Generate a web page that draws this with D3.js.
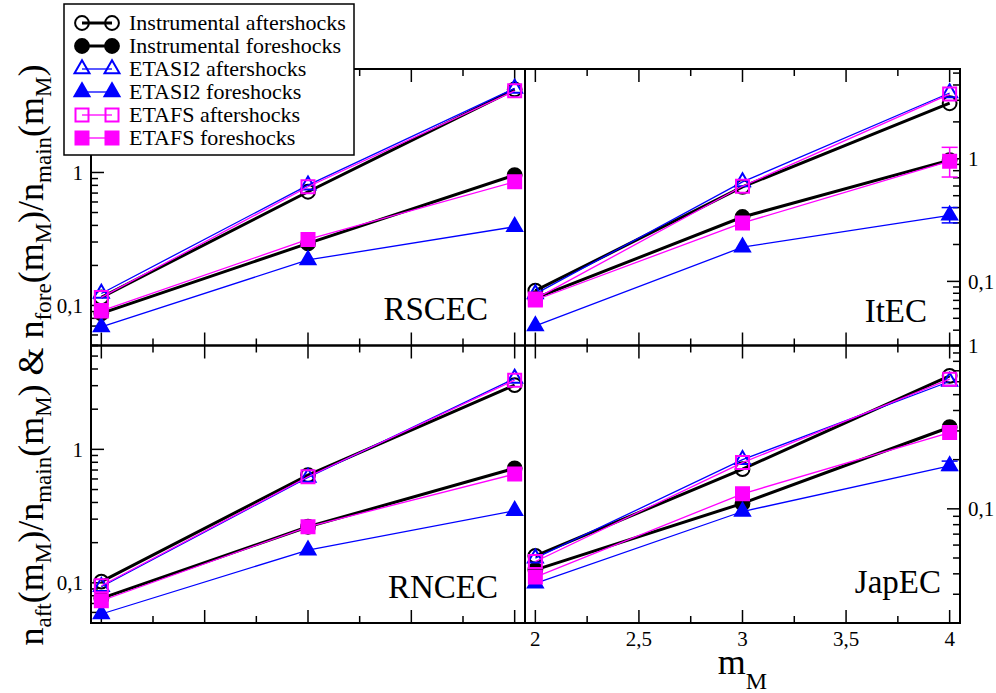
<!DOCTYPE html>
<html><head><meta charset="utf-8">
<script src="https://cdn.jsdelivr.net/npm/d3@7"></script>
<style>
body{margin:0;background:#fff}
svg{display:block}
</style>
</head><body>
<svg id="chart" width="996" height="693" font-family="'Liberation Serif', 'Times New Roman', Tinos, 'DejaVu Serif', serif"></svg>
<script>
// ---------------- DATA ----------------
const magnitudes = [2, 3, 4];
const seriesNames = [
  "Instrumental aftershocks",
  "Instrumental foreshocks",
  "ETASI2 aftershocks",
  "ETASI2 foreshocks",
  "ETAFS aftershocks",
  "ETAFS foreshocks"
];
const panelNames = ["RSCEC", "ItEC", "RNCEC", "JapEC"];
// values per series (legend order) at m_M = 2, 3, 4
const RSCEC = [
  [0.115, 0.716, 4.21],
  [0.0872, 0.293, 0.956],
  [0.123, 0.804, 4.29],
  [0.069, 0.22, 0.391],
  [0.115, 0.781, 4.11],
  [0.091, 0.314, 0.851]
];
const ItEC = [
  [0.084, 0.59, 2.84],
  [0.073, 0.335, 0.976],
  [0.079, 0.648, 3.44],
  [0.0434, 0.19, 0.346],
  [0.072, 0.597, 3.37],
  [0.0705, 0.30, 0.957]
];
const RNCEC = [
  [0.102, 0.642, 3.03],
  [0.0765, 0.263, 0.721],
  [0.0935, 0.617, 3.4],
  [0.0584, 0.176, 0.347],
  [0.095, 0.623, 3.3],
  [0.0734, 0.263, 0.653]
];
const JapEC = [
  [0.0515, 0.175, 0.652],
  [0.0423, 0.108, 0.316],
  [0.0499, 0.2, 0.602],
  [0.035, 0.0963, 0.183],
  [0.0476, 0.192, 0.622],
  [0.0382, 0.1236, 0.293]
];
// [panel, series index, m_M, low, high]
const errorBars = [
  ["ItEC", 5, 4, 0.71, 1.24],
  ["ItEC", 3, 4, 0.30, 0.40],
  ["JapEC", 3, 4, 0.172, 0.196]
];
const xMajorTicks = [2, 2.5, 3, 3.5, 4];
const xMinorTicks = [2.25, 2.75, 3.25, 3.75];
const xTickLabels = ["2", "2,5", "3", "3,5", "4"];
const yDomains = { RSCEC: [0.05, 6], ItEC: [0.03, 5.4], RNCEC: [0.05, 6], JapEC: [0.02, 1] };
const xDomain = [1.95, 4.05];

// ---------------- STYLE ----------------
const FONT = "'Liberation Serif', 'Times New Roman', Tinos, 'DejaVu Serif', serif";
const seriesStyle = [
  { color: "#000000", lw: 3,   shape: d3.symbolCircle,   size: 150, filled: false },
  { color: "#000000", lw: 3,   shape: d3.symbolCircle,   size: 150, filled: true },
  { color: "#0000ff", lw: 1.3, shape: d3.symbolTriangle, size: 97,  filled: false },
  { color: "#0000ff", lw: 1.3, shape: d3.symbolTriangle, size: 97,  filled: true },
  { color: "#ff00ff", lw: 1.3, shape: d3.symbolSquare,   size: 169, filled: false },
  { color: "#ff00ff", lw: 1.3, shape: d3.symbolSquare,   size: 169, filled: true }
];
const panelData = { RSCEC, ItEC, RNCEC, JapEC };
const layout = {
  RSCEC: { x0: 91,  x1: 525, y0: 69,    y1: 345.5, side: "left",  label: [488, 320] },
  ItEC:  { x0: 525, x1: 960, y0: 69,    y1: 345.5, side: "right", label: [927, 322] },
  RNCEC: { x0: 91,  x1: 525, y0: 345.5, y1: 623,   side: "left",  label: [498, 598] },
  JapEC: { x0: 525, x1: 960, y0: 345.5, y1: 623,   side: "right", label: [941, 593] }
};

const svg = d3.select("#chart");
svg.append("rect").attr("width", 996).attr("height", 693).attr("fill", "#fff");
const txt = (sel) => sel.append("text").attr("font-family", FONT).attr("fill", "#000");

const isPow10 = v => Math.abs(Math.log10(v) - Math.round(Math.log10(v))) < 1e-6;
const fmtY = v => String(v).replace(".", ",");

panelNames.forEach(name => {
  const L = layout[name];
  const x = d3.scaleLinear().domain(xDomain).range([L.x0, L.x1]);
  const y = d3.scaleLog().domain(yDomains[name]).range([L.y1, L.y0]);
  const g = svg.append("g");

  // y ticks
  const yt = y.ticks().filter(v => v >= yDomains[name][0] - 1e-12 && v <= yDomains[name][1] + 1e-12);
  yt.forEach(v => {
    const major = isPow10(v);
    const len = major ? 13 : 7;
    const yy = y(v);
    if (L.side === "left") {
      g.append("line").attr("x1", L.x0).attr("x2", L.x0 + len).attr("y1", yy).attr("y2", yy)
        .attr("stroke", "#000").attr("stroke-width", 1.5);
      if (major) txt(g).attr("x", L.x0 - 8).attr("y", yy).attr("dy", "0.35em")
        .attr("text-anchor", "end").attr("font-size", 21).text(fmtY(v));
    } else {
      g.append("line").attr("x1", L.x1).attr("x2", L.x1 - len).attr("y1", yy).attr("y2", yy)
        .attr("stroke", "#000").attr("stroke-width", 1.5);
      if (major) txt(g).attr("x", L.x1 + 8).attr("y", yy).attr("dy", "0.35em")
        .attr("text-anchor", "start").attr("font-size", 21).text(fmtY(v));
    }
  });

  // x ticks (top and bottom, inward)
  const xt = xMajorTicks.map(v => [v, true]).concat(xMinorTicks.map(v => [v, false]));
  xt.forEach(([v, major]) => {
    const len = major ? 13 : 7;
    const xx = x(v);
    g.append("line").attr("x1", xx).attr("x2", xx).attr("y1", L.y1).attr("y2", L.y1 - len)
      .attr("stroke", "#000").attr("stroke-width", 1.5);
    g.append("line").attr("x1", xx).attr("x2", xx).attr("y1", L.y0).attr("y2", L.y0 + len)
      .attr("stroke", "#000").attr("stroke-width", 1.5);
  });
  if (name === "JapEC") {
    xMajorTicks.forEach((v, i) => {
      txt(g).attr("x", x(v)).attr("y", 646).attr("text-anchor", "middle")
        .attr("font-size", 21).text(xTickLabels[i]);
    });
  }

  // series
  const line = d3.line().x((d, i) => x(magnitudes[i])).y(d => y(d));
  panelData[name].forEach((vals, si) => {
    const st = seriesStyle[si];
    g.append("path").attr("d", line(vals)).attr("fill", "none")
      .attr("stroke", st.color).attr("stroke-width", st.lw);
    errorBars.filter(e => e[0] === name && e[1] === si).forEach(e => {
      const ex = x(e[2]);
      g.append("line").attr("x1", ex).attr("x2", ex).attr("y1", y(e[3])).attr("y2", y(e[4]))
        .attr("stroke", st.color).attr("stroke-width", 1.5);
      [e[3], e[4]].forEach(v => g.append("line").attr("x1", ex - 8).attr("x2", ex + 8)
        .attr("y1", y(v)).attr("y2", y(v)).attr("stroke", st.color).attr("stroke-width", 1.5));
    });
    const sym = d3.symbol().type(st.shape).size(st.size);
    vals.forEach((v, i) => {
      g.append("path").attr("d", sym())
        .attr("transform", `translate(${x(magnitudes[i])},${y(v)})`)
        .attr("fill", st.filled ? st.color : "none")
        .attr("stroke", st.color).attr("stroke-width", 2);
    });
  });

  // frame
  g.append("rect").attr("x", L.x0).attr("y", L.y0).attr("width", L.x1 - L.x0).attr("height", L.y1 - L.y0)
    .attr("fill", "none").attr("stroke", "#000").attr("stroke-width", 2);

  // panel label
  txt(g).attr("x", L.label[0]).attr("y", L.label[1]).attr("text-anchor", "end")
    .attr("font-size", 33).text(name);
});

// axis titles
const xR = d3.scaleLinear().domain(xDomain).range([layout.JapEC.x0, layout.JapEC.x1]);
const xl = txt(svg).attr("x", xR(3)).attr("y", 674).attr("text-anchor", "middle").attr("font-size", 36);
xl.append("tspan").text("m");
xl.append("tspan").attr("font-size", 24).attr("dy", 15).text("M");

const yl = txt(svg).attr("transform", "translate(43,355) rotate(-90)")
  .attr("text-anchor", "middle").attr("font-size", 36);
const yParts = [
  ["n", 0], ["aft", 1], ["(m", 0], ["M", 1], [")/n", 0], ["main", 1], ["(m", 0], ["M", 1],
  [") & n", 0], ["fore", 1], ["(m", 0], ["M", 1], [")/n", 0], ["main", 1], ["(m", 0], ["M", 1], [")", 0]
];
let cur = 0;
yParts.forEach(([t, sub]) => {
  const target = sub ? 8 : 0;
  const ts = yl.append("tspan").attr("dy", target - cur).text(t);
  if (sub) ts.attr("font-size", 23);
  cur = target;
});

// legend
const lg = svg.append("g");
lg.append("rect").attr("x", 64).attr("y", 4).attr("width", 290).attr("height", 151)
  .attr("fill", "#fff").attr("stroke", "#000").attr("stroke-width", 1.5);
seriesNames.forEach((nm, i) => {
  const st = seriesStyle[i];
  const cy = 23 + i * 23;
  lg.append("line").attr("x1", 82).attr("x2", 112).attr("y1", cy).attr("y2", cy)
    .attr("stroke", st.color).attr("stroke-width", st.lw);
  const sym = d3.symbol().type(st.shape).size(st.size);
  [82, 112].forEach(cx => lg.append("path").attr("d", sym()).attr("transform", `translate(${cx},${cy})`)
    .attr("fill", st.filled ? st.color : "none").attr("stroke", st.color).attr("stroke-width", 2));
  txt(lg).attr("x", 129).attr("y", cy + 7).attr("font-size", 22).text(nm);
});
</script>
</body></html>
